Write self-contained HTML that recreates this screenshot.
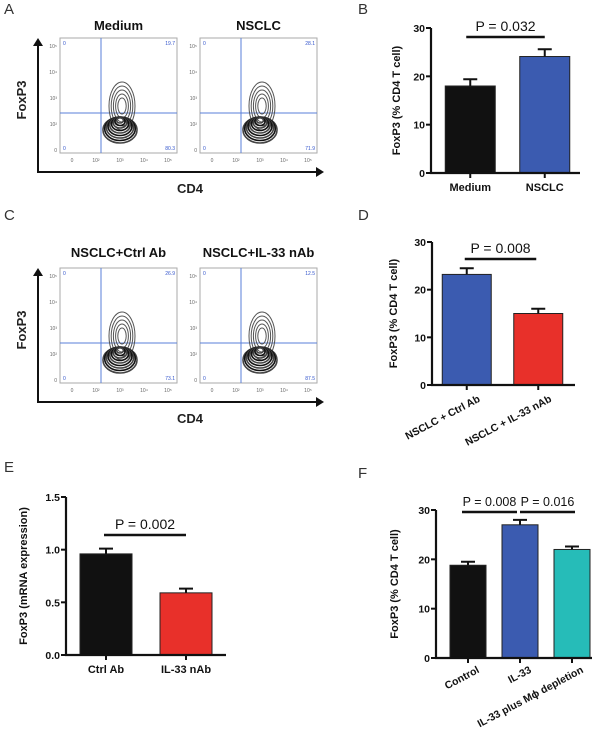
<!DOCTYPE html>
<html><head><meta charset="utf-8">
<style>
html,body{margin:0;padding:0;background:#fff;}
svg{display:block;font-family:"Liberation Sans",Arial,sans-serif;}
</style></head>
<body>
<svg id="fig" width="600" height="742" viewBox="0 0 600 742" xmlns="http://www.w3.org/2000/svg">
</svg>
<script>
// ---- chart data ----
const bCategories = ["Medium", "NSCLC"];
const bValues = [18, 24.1];
const bErrors = [1.4, 1.5];
const bTicks = [0, 10, 20, 30];

const dCategories = ["NSCLC + Ctrl Ab", "NSCLC + IL-33 nAb"];
const dValues = [23.2, 15];
const dErrors = [1.3, 1.0];
const dTicks = [0, 10, 20, 30];

const eCategories = ["Ctrl Ab", "IL-33 nAb"];
const eValues = [0.96, 0.59];
const eErrors = [0.05, 0.04];
const eTicks = [0.0, 0.5, 1.0, 1.5];

const fCategories = ["Control", "IL-33", "IL-33 plus M\u03d5 depletion"];
const fValues = [18.8, 27, 22];
const fErrors = [0.7, 1.0, 0.6];
const fTicks = [0, 10, 20, 30];

const flowA = [{title:"Medium", ul:"0", ur:"19.7", lr:"80.3"}, {title:"NSCLC", ul:"0", ur:"28.1", lr:"71.9"}];
const flowC = [{title:"NSCLC+Ctrl Ab", ul:"0", ur:"26.9", lr:"73.1"}, {title:"NSCLC+IL-33 nAb", ul:"0", ur:"12.5", lr:"87.5"}];

const NS = "http://www.w3.org/2000/svg";
const svg = document.getElementById("fig");
function el(tag, attrs, parent, text){
  const e = document.createElementNS(NS, tag);
  for (const k in attrs) e.setAttribute(k, attrs[k]);
  if (text !== undefined) e.textContent = text;
  (parent || svg).appendChild(e);
  return e;
}
function label(t, x, y){
  const e = el("text", {x:x, y:y, "font-size":15, fill:"#333"}, svg, t);
  
  
}

function barChart(cfg){
  const g = el("g", {});
  
  
  const ymax = cfg.ticks[cfg.ticks.length-1];
  const ys = v => cfg.y0 - (v / ymax) * (cfg.y0 - cfg.yTop);
  const n = cfg.cats.length;
  const step = (cfg.xEnd - cfg.x0) / n;
  const xc = i => cfg.x0 + step * (i + 0.5) + cfg.shift;
  cfg.vals.forEach((v, i) => {
    const cx = xc(i);
    const b = el("rect", {x:cx - cfg.bw/2, y:ys(v), width:cfg.bw, height:cfg.y0 - ys(v), fill:cfg.colors[i], stroke:"#222", "stroke-width":1}, g);
    
    
    const top = ys(v + cfg.errs[i]);
    const eb = el("path", {d:`M${cx} ${ys(v)} V${top} M${cx-7} ${top} H${cx+7}`, stroke:"#111", "stroke-width":2, fill:"none"}, g);
    
    
    el("line", {x1:cx, y1:cfg.y0, x2:cx, y2:cfg.y0+5, stroke:"#111", "stroke-width":2}, g);
    let lt;
    if (cfg.rot) {
      lt = el("text", {x:cx+cfg.rotDx, y:cfg.y0+cfg.rotDy, "font-size":10.5, "font-weight":"bold", fill:"#111", "text-anchor":"end", transform:`rotate(-28 ${cx+cfg.rotDx} ${cfg.y0+cfg.rotDy})`}, g, cfg.cats[i]);
    } else {
      lt = el("text", {x:cx, y:cfg.y0+18, "font-size":11, "font-weight":"bold", fill:"#111", "text-anchor":"middle"}, g, cfg.cats[i]);
    }
    
    
  });
  const ax = el("path", {d:`M${cfg.x0} ${cfg.yTop} V${cfg.y0} H${cfg.xEnd}`, stroke:"#111", "stroke-width":2.2, fill:"none"}, g);
  
  
  cfg.ticks.forEach(t => {
    const y = ys(t);
    el("line", {x1:cfg.x0-5, y1:y, x2:cfg.x0, y2:y, stroke:"#111", "stroke-width":2}, g);
    const tl = el("text", {x:cfg.x0-6, y:y+4, "font-size":10.5, "font-weight":"bold", fill:"#111", "text-anchor":"end"}, g, cfg.tickFmt(t));
    
    
  });
  const yl = el("text", {x:0, y:0, "font-size":11, "font-weight":"bold", fill:"#111", "text-anchor":"middle", transform:`translate(${cfg.ylx} ${(cfg.y0+cfg.yTop)/2}) rotate(-90)`}, g, cfg.ylabel);
  
  
  cfg.sig.forEach(s => {
    const x1 = xc(s.a) + s.da, x2 = xc(s.b) + s.db;
    const ln = el("line", {x1:x1, y1:s.y, x2:x2, y2:s.y, stroke:"#111", "stroke-width":2.5}, g);
    
    
    const pt = el("text", {x:(x1+x2)/2, y:s.y-6, "font-size":s.fs || 14, fill:"#111", "text-anchor":"middle"}, g, s.text);
    
    
  });
}

function flowPanel(data, top, titleY){
  const g = el("g", {});
  
  
  const boxes = [60, 200], w = 117, h = 115;
  data.forEach((d, i) => {
    const x = boxes[i];
    const t = el("text", {x:x+w/2, y:titleY, "font-size":13, "font-weight":"bold", fill:"#111", "text-anchor":"middle"}, g, d.title);
    
    
    const r = el("rect", {x:x, y:top, width:w, height:h, fill:"#fff", stroke:"#aaa", "stroke-width":1}, g);
    
    
    const qx = x + 41, qy = top + 75;
    el("line", {x1:qx, y1:top, x2:qx, y2:top+h, stroke:"#5a7fd8", "stroke-width":1}, g);
    el("line", {x1:x, y1:qy, x2:x+w, y2:qy, stroke:"#5a7fd8", "stroke-width":1}, g);
    el("text", {x:x+3, y:top+7, "font-size":5, fill:"#3355cc"}, g, d.ul);
    el("text", {x:x+w-2, y:top+7, "font-size":5, fill:"#3355cc", "text-anchor":"end"}, g, d.ur);
    el("text", {x:x+3, y:top+h-3, "font-size":5, fill:"#3355cc"}, g, "0");
    el("text", {x:x+w-2, y:top+h-3, "font-size":5, fill:"#3355cc", "text-anchor":"end"}, g, d.lr);
    ["10\u2075","10\u2074","10\u00b3","10\u00b2","0"].forEach((s,k)=>{
      el("text", {x:x-3, y:top+10+k*26, "font-size":5, fill:"#666", "text-anchor":"end"}, g, s);
    });
    ["0","10\u00b2","10\u00b3","10\u2074","10\u2075"].forEach((s,k)=>{
      el("text", {x:x+12+k*24, y:top+h+9, "font-size":5, fill:"#666", "text-anchor":"middle"}, g, s);
    });
    const cx = x + 60, cy = top + 92;
    const c = el("g", {}, g);
    
    
    for (let k = 0; k < 5; k++) {
      el("ellipse", {cx:cx+2, cy:cy - 24, rx:13 - k*2.2, ry:24 - k*4, fill:"none", stroke:"#555", "stroke-width":1}, c);
    }
    for (let k = 0; k < 9; k++) {
      el("ellipse", {cx:cx, cy:cy - k*1.2, rx:17 - k*1.7, ry:13 - k*1.3, fill:"none", stroke: k%2 ? "#111" : "#444", "stroke-width":1.6}, c);
    }
  });
  const ax = el("path", {d:`M38 ${top+2} V${top+134} H318`, stroke:"#111", "stroke-width":2, fill:"none"}, g);
  
  
  el("path", {d:`M33 ${top+8} L38 ${top} L43 ${top+8} Z`, fill:"#111"}, g);
  el("path", {d:`M316 ${top+129} L324 ${top+134} L316 ${top+139} Z`, fill:"#111"}, g);
  const fy = el("text", {x:0, y:0, "font-size":13, "font-weight":"bold", fill:"#222", "text-anchor":"middle", transform:`translate(26 ${top+62}) rotate(-90)`}, g, "FoxP3");
  
  
  const fx = el("text", {x:190, y:top+155, "font-size":13, "font-weight":"bold", fill:"#222", "text-anchor":"middle"}, g, "CD4");
  
  
}

label("A", 4, 14); label("B", 358, 14); label("C", 4, 220);
label("D", 358, 220); label("E", 4, 472); label("F", 358, 478);

flowPanel(flowA, 38, 30);
flowPanel(flowC, 268, 257);

const fmt0 = t => String(t), fmt1 = t => t.toFixed(1);
barChart({name:"chart-b", cats:bCategories, vals:bValues, errs:bErrors, ticks:bTicks, tickFmt:fmt0,
  x0:431, xEnd:580, y0:173, yTop:28, bw:50, shift:2, colors:["#111","#3b5bb0"], ylx:400,
  ylabel:"FoxP3 (% CD4 T cell)", sig:[{a:0,b:1,da:-4,db:0,y:37,text:"P = 0.032"}]});
barChart({name:"chart-d", cats:dCategories, vals:dValues, errs:dErrors, ticks:dTicks, tickFmt:fmt0,
  x0:432, xEnd:575, y0:385, yTop:242, bw:49, shift:-1, colors:["#3b5bb0","#e8302a"], ylx:397,
  ylabel:"FoxP3 (% CD4 T cell)", rot:true, rotDx:14, rotDy:16, sig:[{a:0,b:1,da:-2,db:-2,y:259,text:"P = 0.008"}]});
barChart({name:"chart-e", cats:eCategories, vals:eValues, errs:eErrors, ticks:eTicks, tickFmt:fmt1,
  x0:66, xEnd:226, y0:655, yTop:497, bw:52, shift:0, colors:["#111","#e8302a"], ylx:27,
  ylabel:"FoxP3 (mRNA expression)", sig:[{a:0,b:1,da:-2,db:0,y:535,text:"P = 0.002"}]});
barChart({name:"chart-f", cats:fCategories, vals:fValues, errs:fErrors, ticks:fTicks, tickFmt:fmt0,
  x0:436, xEnd:592, y0:658, yTop:510, bw:36, shift:6, colors:["#111","#3b5bb0","#26bcb8"], ylx:398,
  ylabel:"FoxP3 (% CD4 T cell)", rot:true, rotDx:12, rotDy:14,
  sig:[{a:0,b:1,da:-6,db:-3,y:512,text:"P = 0.008",fs:12.5},{a:1,b:2,da:0,db:3,y:512,text:"P = 0.016",fs:12.5}]});
</script>
</body></html>
